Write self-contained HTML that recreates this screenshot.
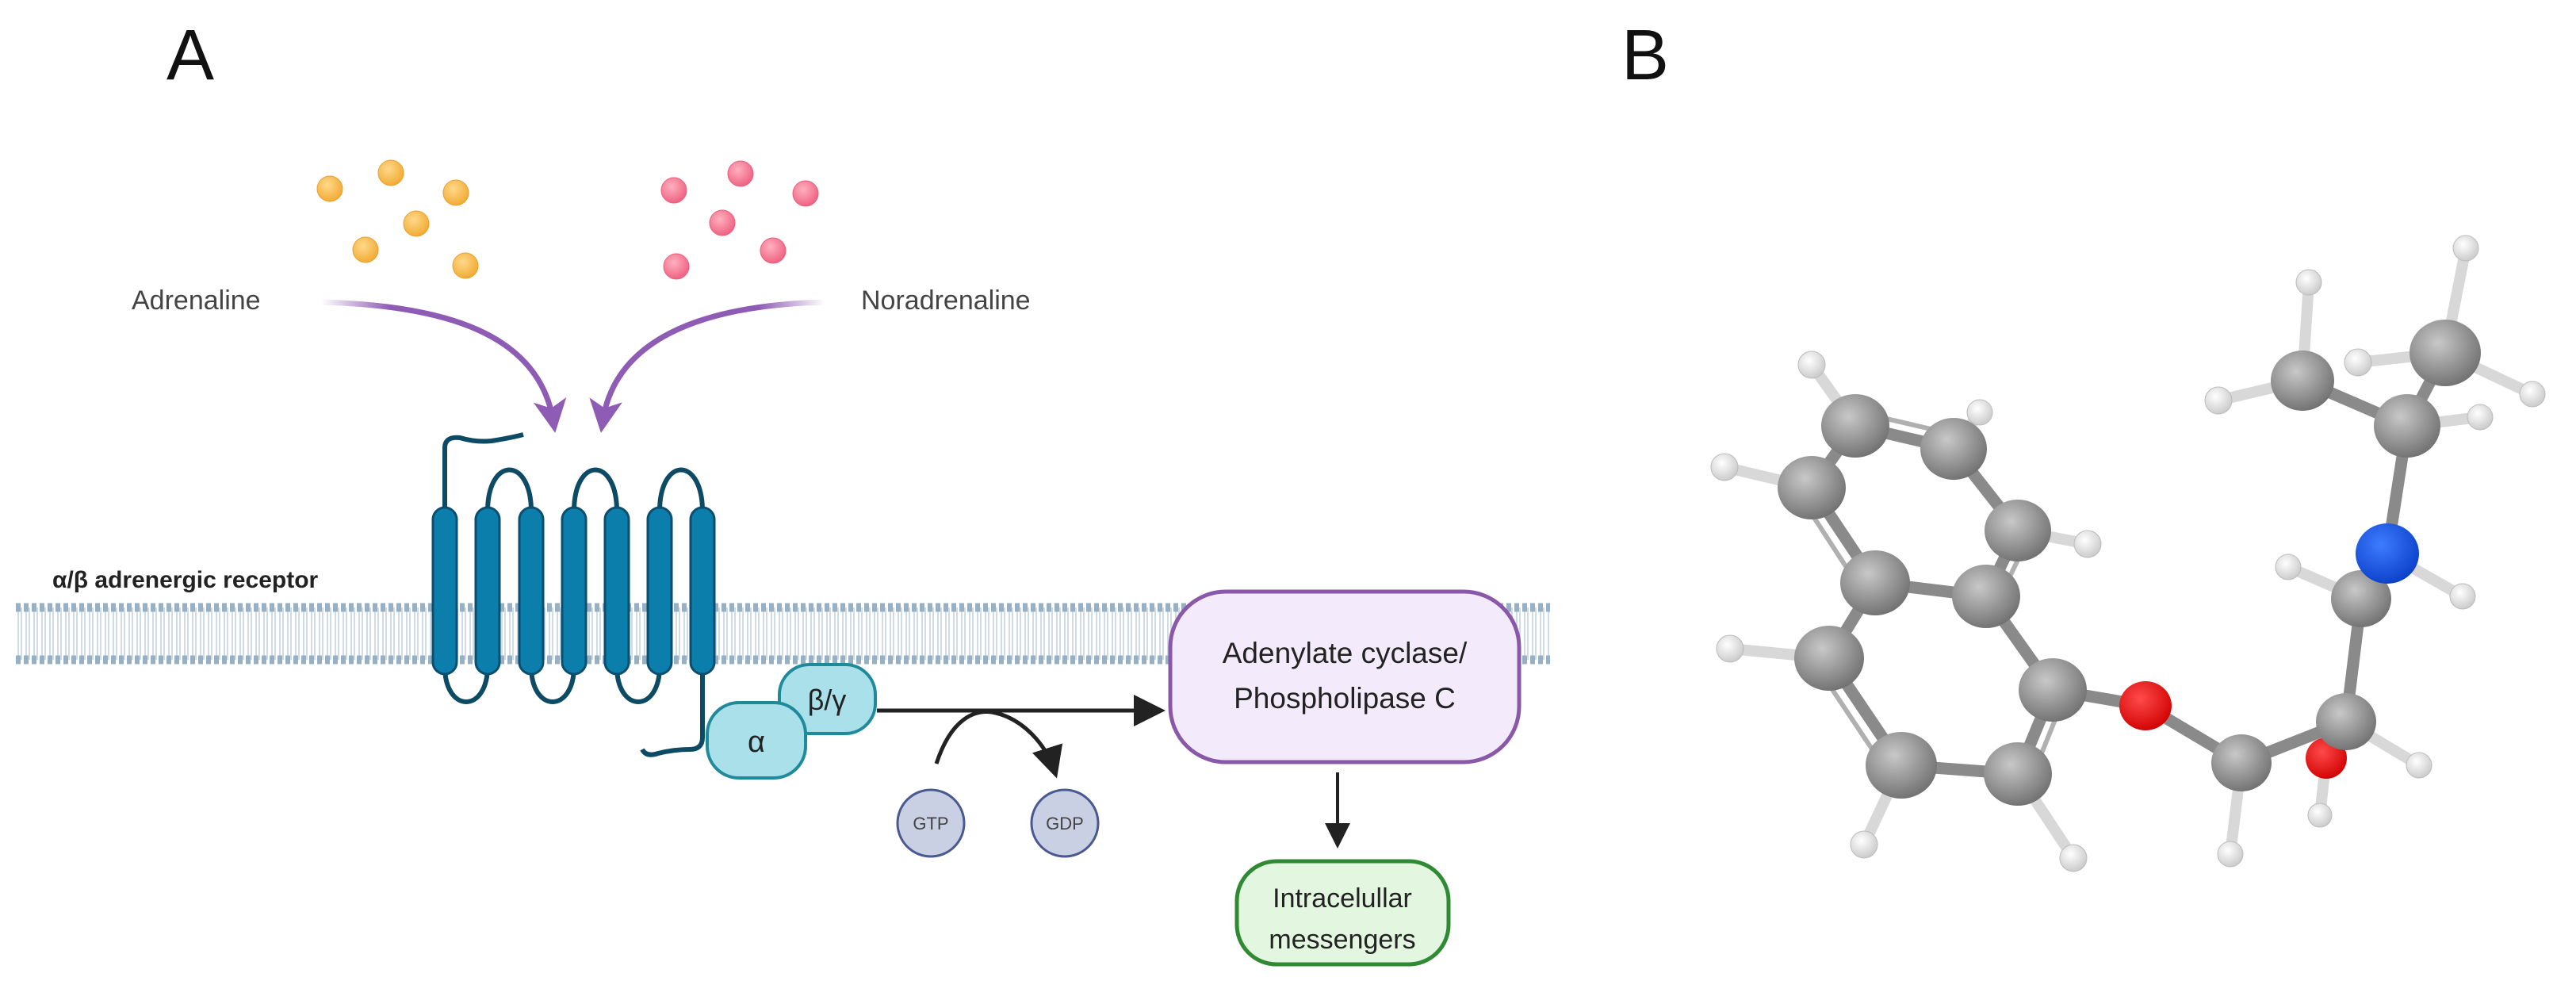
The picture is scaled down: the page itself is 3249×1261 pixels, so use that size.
<!DOCTYPE html>
<html><head><meta charset="utf-8"><style>
html,body{margin:0;padding:0;background:#fff;}
svg{display:block;font-family:"Liberation Sans",sans-serif;}
</style></head><body>
<svg width="3249" height="1261" viewBox="0 0 3249 1261" xmlns="http://www.w3.org/2000/svg">
<defs>
<pattern id="mem" x="0" y="0" width="10" height="100" patternUnits="userSpaceOnUse">
<line x1="3" y1="0" x2="3" y2="100" stroke="#c3d3e0" stroke-width="1.6"/>
<line x1="7" y1="0" x2="7" y2="100" stroke="#c3d3e0" stroke-width="1.6"/>
</pattern>
<linearGradient id="pgL" x1="0" y1="0" x2="1" y2="0"><stop offset="0" stop-color="#8e5bb5" stop-opacity="0"/><stop offset="0.3" stop-color="#8e5bb5"/></linearGradient>
<linearGradient id="pgR" x1="1" y1="0" x2="0" y2="0"><stop offset="0" stop-color="#8e5bb5" stop-opacity="0"/><stop offset="0.3" stop-color="#8e5bb5"/></linearGradient>
<radialGradient id="gO" cx="0.4" cy="0.35" r="0.7"><stop offset="0" stop-color="#ffd98a"/><stop offset="1" stop-color="#f0a830"/></radialGradient>
<radialGradient id="gP" cx="0.4" cy="0.35" r="0.7"><stop offset="0" stop-color="#ffb0c0"/><stop offset="1" stop-color="#ee5d7d"/></radialGradient>
<radialGradient id="gC" cx="0.4" cy="0.35" r="0.7"><stop offset="0" stop-color="#c8c8c8"/><stop offset="1" stop-color="#6e6e6e"/></radialGradient>
<radialGradient id="gH" cx="0.4" cy="0.35" r="0.7"><stop offset="0" stop-color="#ffffff"/><stop offset="1" stop-color="#c8c8c8"/></radialGradient>
<radialGradient id="gN" cx="0.4" cy="0.35" r="0.7"><stop offset="0" stop-color="#3d7cff"/><stop offset="1" stop-color="#0a3fc8"/></radialGradient>
<radialGradient id="gR" cx="0.4" cy="0.35" r="0.7"><stop offset="0" stop-color="#ff4a4a"/><stop offset="1" stop-color="#d00000"/></radialGradient>
<marker id="ah" markerWidth="8" markerHeight="8" refX="6" refY="4" orient="auto" markerUnits="strokeWidth"><path d="M0,0 L8,4 L0,8 z" fill="#222"/></marker>
<marker id="ap" markerWidth="6" markerHeight="6" refX="4" refY="3" orient="auto" markerUnits="strokeWidth"><path d="M0,0 L6,3 L0,6 L1.5,3 z" fill="#8e5bb5"/></marker>
</defs>

<text x="210" y="100" font-size="90" fill="#111">A</text>
<text x="2045" y="100" font-size="90" fill="#111">B</text>

<g fill="url(#gO)" stroke="#e8a030" stroke-width="1">
<circle cx="416" cy="238" r="16"/><circle cx="493" cy="218" r="16"/><circle cx="575" cy="243" r="16"/>
<circle cx="525" cy="282" r="16"/><circle cx="461" cy="315" r="16"/><circle cx="587" cy="335" r="16"/>
</g>
<g fill="url(#gP)" stroke="#e8607c" stroke-width="1">
<circle cx="850" cy="240" r="16"/><circle cx="934" cy="219" r="16"/><circle cx="1016" cy="244" r="16"/>
<circle cx="911" cy="281" r="16"/><circle cx="853" cy="336" r="16"/><circle cx="975" cy="316" r="16"/>
</g>
<text x="166" y="390" font-size="34" fill="#444">Adrenaline</text>
<text x="1086" y="390" font-size="34" fill="#444">Noradrenaline</text>

<path d="M405,381 C560,385 680,420 698,532" fill="none" stroke="url(#pgL)" stroke-width="7" marker-end="url(#ap)"/>
<path d="M1040,381 C880,385 775,430 760,532" fill="none" stroke="url(#pgR)" stroke-width="7" marker-end="url(#ap)"/>

<rect x="20" y="766" width="1935" height="66" fill="url(#mem)"/>
<line x1="20" y1="766" x2="1955" y2="766" stroke="#97b0c4" stroke-width="11" stroke-dasharray="6 4"/>
<line x1="20" y1="832" x2="1955" y2="832" stroke="#97b0c4" stroke-width="11" stroke-dasharray="6 4"/>

<text x="66" y="741" font-size="30" font-weight="bold" fill="#222">α/β adrenergic receptor</text>

<g fill="none" stroke="#0d4a63" stroke-width="6">
<path d="M561,645 L561,565 Q561,550 580,552 Q600,558 620,556 Q645,552 660,548"/>
<path d="M615,645 C615,575 670,575 670,645"/>
<path d="M724,645 C724,575 778,575 778,645"/>
<path d="M832,645 C832,575 886,575 886,645"/>
<path d="M561,840 C561,900 615,900 615,840"/>
<path d="M670,840 C670,900 724,900 724,840"/>
<path d="M778,840 C778,900 832,900 832,840"/>
<path d="M886,840 L886,930 Q886,945 870,945 Q850,945 830,950 Q815,955 810,945"/>
</g>
<g fill="#0b7eab" stroke="#0a4f6f" stroke-width="3">
<rect x="546" y="640" width="30" height="210" rx="15"/>
<rect x="600" y="640" width="30" height="210" rx="15"/>
<rect x="655" y="640" width="30" height="210" rx="15"/>
<rect x="709" y="640" width="30" height="210" rx="15"/>
<rect x="763" y="640" width="30" height="210" rx="15"/>
<rect x="817" y="640" width="30" height="210" rx="15"/>
<rect x="871" y="640" width="30" height="210" rx="15"/>
</g>

<rect x="983" y="838" width="121" height="87" rx="38" fill="#a9e0ea" stroke="#1f8a9a" stroke-width="4"/>
<text x="1043" y="895" font-size="36" fill="#222" text-anchor="middle">β/γ</text>
<rect x="892" y="886" width="124" height="95" rx="40" fill="#a9e0ea" stroke="#1f8a9a" stroke-width="4"/>
<text x="954" y="948" font-size="38" fill="#222" text-anchor="middle">α</text>

<line x1="1106" y1="896" x2="1460" y2="896" stroke="#222" stroke-width="5" marker-end="url(#ah)"/>
<path d="M1181,963 C1200,905 1230,895 1251,898 C1290,905 1320,940 1330,972" fill="none" stroke="#222" stroke-width="5" marker-end="url(#ah)"/>

<circle cx="1174" cy="1038" r="42" fill="#c9d0e4" stroke="#4a5a90" stroke-width="3"/>
<text x="1174" y="1046" font-size="22" fill="#444" text-anchor="middle">GTP</text>
<circle cx="1343" cy="1038" r="42" fill="#c9d0e4" stroke="#4a5a90" stroke-width="3"/>
<text x="1343" y="1046" font-size="22" fill="#444" text-anchor="middle">GDP</text>

<rect x="1476" y="746" width="440" height="215" rx="70" fill="#f3ebfb" stroke="#8a58a8" stroke-width="5"/>
<text x="1696" y="836" font-size="37" fill="#222" text-anchor="middle">Adenylate cyclase/</text>
<text x="1696" y="893" font-size="37" fill="#222" text-anchor="middle">Phospholipase C</text>

<line x1="1687" y1="974" x2="1687" y2="1062" stroke="#222" stroke-width="4" marker-end="url(#ah)"/>

<rect x="1560" y="1086" width="267" height="130" rx="50" fill="#e3f6df" stroke="#2f8a33" stroke-width="5"/>
<text x="1693" y="1144" font-size="34" fill="#222" text-anchor="middle">Intracelullar</text>
<text x="1693" y="1196" font-size="34" fill="#222" text-anchor="middle">messengers</text>

<g stroke="#d8d8d8" stroke-width="14" stroke-linecap="round">
<line x1="2340" y1="537" x2="2285" y2="460"/>
<line x1="2285" y1="615" x2="2175" y2="589"/>
<line x1="2464" y1="566" x2="2497" y2="520"/>
<line x1="2545" y1="669" x2="2633" y2="686"/>
<line x1="2307" y1="830" x2="2182" y2="818"/>
<line x1="2398" y1="965" x2="2351" y2="1065"/>
<line x1="2545" y1="976" x2="2615" y2="1082"/>
<line x1="2827" y1="962" x2="2813" y2="1077"/>
<line x1="2934" y1="956" x2="2926" y2="1028"/>
<line x1="2959" y1="910" x2="3051" y2="965"/>
<line x1="2978" y1="755" x2="2886" y2="715"/>
<line x1="3011" y1="698" x2="3106" y2="752"/>
<line x1="2904" y1="480" x2="2798" y2="505"/>
<line x1="2904" y1="480" x2="2912" y2="356"/>
<line x1="3084" y1="445" x2="3110" y2="313"/>
<line x1="3084" y1="445" x2="2974" y2="457"/>
<line x1="3084" y1="445" x2="3194" y2="497"/>
<line x1="3036" y1="537" x2="3128" y2="526"/>
</g>
<g stroke="#8a8a8a" stroke-width="15" stroke-linecap="round">
<line x1="2340" y1="537" x2="2464" y2="566"/>
<line x1="2340" y1="537" x2="2285" y2="615"/>
<line x1="2285" y1="615" x2="2365" y2="735"/>
<line x1="2464" y1="566" x2="2545" y2="669"/>
<line x1="2545" y1="669" x2="2505" y2="752"/>
<line x1="2365" y1="735" x2="2505" y2="752"/>
<line x1="2365" y1="735" x2="2307" y2="830"/>
<line x1="2307" y1="830" x2="2398" y2="965"/>
<line x1="2398" y1="965" x2="2545" y2="976"/>
<line x1="2545" y1="976" x2="2589" y2="870"/>
<line x1="2589" y1="870" x2="2505" y2="752"/>
<line x1="2589" y1="870" x2="2706" y2="890"/>
<line x1="2706" y1="890" x2="2827" y2="962"/>
<line x1="2827" y1="962" x2="2959" y2="910"/>
<line x1="2959" y1="910" x2="2978" y2="755"/>
<line x1="2978" y1="755" x2="3011" y2="698"/>
<line x1="3011" y1="698" x2="3036" y2="537"/>
<line x1="3036" y1="537" x2="2904" y2="480"/>
<line x1="3036" y1="537" x2="3084" y2="445"/>
</g>
<g stroke="#b0b0b0" stroke-width="6">
<line x1="2345" y1="520" x2="2470" y2="549"/>
<line x1="2268" y1="622" x2="2348" y2="745"/>
<line x1="2560" y1="675" x2="2520" y2="758"/>
<line x1="2290" y1="838" x2="2380" y2="973"/>
<line x1="2562" y1="982" x2="2604" y2="878"/>
</g>
<g fill="url(#gH)" stroke="#bbb" stroke-width="1">
<circle cx="2285" cy="460" r="17"/><circle cx="2175" cy="589" r="17"/><circle cx="2497" cy="520" r="16"/>
<circle cx="2633" cy="686" r="17"/><circle cx="2182" cy="818" r="17"/><circle cx="2351" cy="1065" r="17"/>
<circle cx="2615" cy="1082" r="17"/><circle cx="2813" cy="1077" r="16"/><circle cx="2926" cy="1028" r="15"/>
<circle cx="3051" cy="965" r="16"/><circle cx="2886" cy="715" r="16"/><circle cx="3106" cy="752" r="16"/>
<circle cx="2798" cy="505" r="17"/><circle cx="2912" cy="356" r="16"/><circle cx="3110" cy="313" r="16"/>
<circle cx="2974" cy="457" r="17"/><circle cx="3194" cy="497" r="16"/><circle cx="3128" cy="526" r="16"/>
</g>
<g fill="url(#gC)">
<ellipse cx="2340" cy="537" rx="43" ry="40"/><ellipse cx="2464" cy="566" rx="42" ry="39"/>
<ellipse cx="2285" cy="615" rx="43" ry="40"/><ellipse cx="2545" cy="669" rx="42" ry="39"/>
<ellipse cx="2365" cy="735" rx="44" ry="41"/><ellipse cx="2505" cy="752" rx="43" ry="40"/>
<ellipse cx="2307" cy="830" rx="44" ry="41"/><ellipse cx="2589" cy="870" rx="43" ry="40"/>
<ellipse cx="2398" cy="965" rx="45" ry="42"/><ellipse cx="2545" cy="976" rx="43" ry="40"/>
<ellipse cx="2934" cy="956" rx="26" ry="26" fill="url(#gR)"/>
<ellipse cx="2827" cy="962" rx="38" ry="36"/>
<ellipse cx="2959" cy="910" rx="38" ry="36"/>
<ellipse cx="2978" cy="755" rx="38" ry="36"/>
<ellipse cx="2904" cy="480" rx="40" ry="38"/>
<ellipse cx="3036" cy="537" rx="42" ry="40"/>
<ellipse cx="3084" cy="445" rx="45" ry="42"/>
</g>
<ellipse cx="2706" cy="890" rx="33" ry="31" fill="url(#gR)"/>
<ellipse cx="3011" cy="698" rx="40" ry="38" fill="url(#gN)"/>
</svg>
</body></html>
